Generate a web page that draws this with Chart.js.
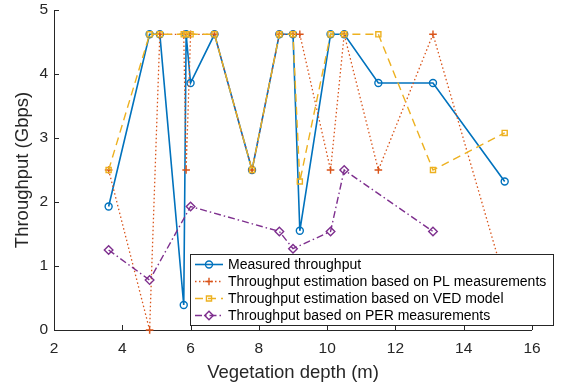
<!DOCTYPE html>
<html><head><meta charset="utf-8">
<script src="https://cdn.jsdelivr.net/npm/chart.js@4.4.1/dist/chart.umd.min.js"></script>
<style>html,body{margin:0;padding:0;background:#fff;}#wrap{width:561px;height:386px;}</style>
</head><body><div id="wrap"><canvas id="c" width="561" height="386"></canvas></div>
<script>
// ---- data ----
const depthX      = [3.6, 4.8, 5.1, 5.8, 5.87, 6.0, 6.7, 7.8, 8.6, 9.0, 9.2, 10.1, 10.5, 11.5, 13.1, 15.2];
const measured    = [1.93, 4.62, 4.62, 0.39, 4.62, 3.86, 4.62, 2.5, 4.62, 4.62, 1.55, 4.62, 4.62, 3.86, 3.86, 2.32];
const plEstimate  = [2.5, 0, 4.62, 4.62, 2.5, 4.62, 4.62, 2.5, 4.62, 4.62, 4.62, 2.5, 4.62, 2.5, 4.62, 0.77];
const vedEstimate = [2.5, 4.62, 4.62, 4.62, 4.62, 4.62, 4.62, 2.5, 4.62, 4.62, 2.32, 4.62, 4.62, 4.62, 2.5, 3.08];
const perX        = [3.6, 4.8, 6.0, 8.6, 9.0, 10.1, 10.5, 13.1];
const perValues   = [1.25, 0.78, 1.93, 1.54, 1.27, 1.54, 2.5, 1.54];
const xTickValues = [2, 4, 6, 8, 10, 12, 14, 16];
const yTickValues = [0, 1, 2, 3, 4, 5];
const seriesNames = [
  'Measured throughput',
  'Throughput estimation based on PL measurements',
  'Throughput estimation based on VED model',
  'Throughput based on PER measurements'
];
const xTitle = 'Vegetation depth (m)';
const yTitle = 'Throughput (Gbps)';

const FONT = "'Liberation Sans', Arial, Helvetica, sans-serif";
const TXT = '#262626';
const pts = (xs, ys) => xs.map((x, i) => ({x, y: ys[i]}));

const datasets = [
  {label: seriesNames[0], data: pts(depthX, measured), borderColor: '#0072BD', borderWidth: 1.6,
   pointStyle: 'circle', pointRadius: 3.5, pointBorderWidth: 1.4, order: 4},
  {label: seriesNames[1], data: pts(depthX, plEstimate), borderColor: '#D95319', borderWidth: 1.3,
   borderDash: [1.5, 2.5], pointStyle: 'cross', pointRadius: 3.8, pointBorderWidth: 1.4, order: 3},
  {label: seriesNames[2], data: pts(depthX, vedEstimate), borderColor: '#EDB120', borderWidth: 1.4,
   borderDash: [8, 5], pointStyle: 'rect', pointRadius: 3.6, pointBorderWidth: 1.4, order: 2},
  {label: seriesNames[3], data: pts(perX, perValues), borderColor: '#7E2F8E', borderWidth: 1.4,
   borderDash: [7, 3, 1.5, 3], pointStyle: 'rectRot', pointRadius: 4.3, pointBorderWidth: 1.4, order: 1}
];
datasets.forEach(d => {
  d.pointBorderColor = d.borderColor;
  d.pointBackgroundColor = 'rgba(0,0,0,0)';
  d.backgroundColor = 'rgba(0,0,0,0)';
  d.fill = false; d.tension = 0; d.clip = false;
  d.pointHoverRadius = d.pointRadius;
});

const axesPlugin = {
  id: 'axesPlugin',
  beforeDatasetsDraw(chart) {
    const {ctx, chartArea: a, scales: {x, y}} = chart;
    ctx.save();
    ctx.strokeStyle = TXT; ctx.lineWidth = 1;
    ctx.beginPath();
    ctx.moveTo(a.left + 0.5, a.top); ctx.lineTo(a.left + 0.5, a.bottom + 0.5);
    ctx.lineTo(a.right, a.bottom + 0.5);
    xTickValues.forEach(v => { const px = Math.round(x.getPixelForValue(v)) + 0.5; ctx.moveTo(px, a.bottom); ctx.lineTo(px, a.bottom - 5); });
    yTickValues.forEach(v => { const py = Math.round(y.getPixelForValue(v)) + 0.5; ctx.moveTo(a.left, py); ctx.lineTo(a.left + 5, py); });
    ctx.stroke();
    ctx.restore();
  }
};

const legendPlugin = {
  id: 'boxLegend',
  afterDraw(chart) {
    const {ctx} = chart;
    const bx = 190.5, by = 254.5, bw = 363, bh = 71;
    ctx.save();
    ctx.fillStyle = '#fff'; ctx.fillRect(bx, by, bw, bh);
    ctx.strokeStyle = TXT; ctx.lineWidth = 1; ctx.setLineDash([]);
    ctx.strokeRect(bx, by, bw, bh);
    datasets.forEach((d, i) => {
      const cy = 264.5 + i * 17;
      ctx.strokeStyle = d.borderColor; ctx.lineWidth = d.borderWidth;
      ctx.setLineDash(d.borderDash || []);
      ctx.beginPath(); ctx.moveTo(195, cy); ctx.lineTo(223, cy); ctx.stroke();
      ctx.setLineDash([]);
      ctx.lineWidth = d.pointBorderWidth;
      ctx.fillStyle = 'rgba(0,0,0,0)';
      Chart.helpers.drawPoint(ctx, {pointStyle: d.pointStyle, rotation: 0, borderWidth: d.pointBorderWidth, radius: d.pointRadius}, 209, cy);
      ctx.fillStyle = '#000'; ctx.font = '14px ' + FONT; ctx.textBaseline = 'middle'; ctx.textAlign = 'left';
      ctx.fillText(d.label, 228, cy + 0.5);
    });
    ctx.restore();
  }
};

new Chart(document.getElementById('c'), {
  type: 'line',
  data: {datasets},
  options: {
    responsive: false, devicePixelRatio: 1, animation: false,
    events: [],
    layout: {padding: {left: 0, right: 29, top: 10, bottom: 0}},
    plugins: {legend: {display: false}, tooltip: {enabled: false}},
    scales: {
      x: {
        type: 'linear', min: 2, max: 16,
        afterBuildTicks: s => { s.ticks = xTickValues.map(v => ({value: v})); },
        afterFit: s => { s.height = 56; s.paddingLeft = 0; s.paddingRight = 0; s.paddingTop = 0; s.paddingBottom = 0; },
        grid: {display: false, drawTicks: false}, border: {display: false},
        ticks: {color: TXT, font: {family: FONT, size: 15.5}, padding: 9, maxRotation: 0, autoSkip: false},
        title: {display: true, text: xTitle, color: TXT, font: {family: FONT, size: 18.5}, padding: {top: 0, bottom: 2}}
      },
      y: {
        type: 'linear', min: 0, max: 5,
        afterBuildTicks: s => { s.ticks = yTickValues.map(v => ({value: v})); },
        afterFit: s => { s.width = 54; s.paddingLeft = 0; s.paddingRight = 0; s.paddingTop = 0; s.paddingBottom = 0; },
        grid: {display: false, drawTicks: false}, border: {display: false},
        ticks: {color: TXT, font: {family: FONT, size: 15.5}, padding: 6},
        title: {display: true, text: yTitle, color: TXT, font: {family: FONT, size: 18.5}, padding: {top: 12, bottom: 0}}
      }
    }
  },
  plugins: [axesPlugin, legendPlugin]
});
</script></body></html>
